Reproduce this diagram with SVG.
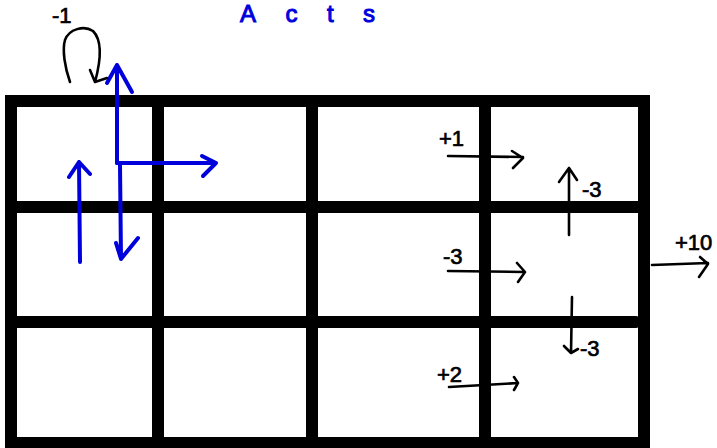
<svg xmlns="http://www.w3.org/2000/svg" width="717" height="448" viewBox="0 0 717 448">
<style>
.grid{stroke:#000;stroke-width:12;stroke-linecap:round;fill:none}
.blue{stroke:#0000dd;stroke-width:4;stroke-linecap:round;stroke-linejoin:round;fill:none}
.blk{stroke:#000;stroke-width:2.6;stroke-linecap:round;stroke-linejoin:round;fill:none}
.lbl{font-family:"Liberation Sans",Arial,sans-serif;font-size:22px;fill:#000;stroke:#000;stroke-width:0.7}
</style>
<rect width="717" height="448" fill="#fff"/>
<text x="240" y="22" font-family="Liberation Sans, Arial, sans-serif" font-size="24" fill="#0000dd" stroke="#0000dd" stroke-width="1" textLength="135" lengthAdjust="spacing">Acts</text>
<g id="grid">
<path class="grid" d="M11,448 L11,101 L644,101 L644,448"/>
<path class="grid" d="M11,443 L644,443"/>
<path class="grid" d="M11,207 L644,207"/>
<path class="grid" d="M11,322 L636,322"/>
<path class="grid" d="M158,101 L158,448"/>
<path class="grid" d="M312,101 L312,448"/>
<path class="grid" d="M485,101 L485,448"/>
</g>
<g id="actions">
<path class="blue" d="M117,163 L117,65 M107,83 L117,65 L132,92"/>
<path class="blue" d="M117,163 L216,163 M202,156 L216,163 L203,176"/>
<path class="blue" d="M120,165 L121,259 M116,243 L121,259 L138,238"/>
<path class="blue" d="M80,262 L79,162 M69,177 L79,162 L90,174"/>
</g>
<g id="connectors">
<path class="blk" d="M70,82 C65,68 62,50 65,40 C69,29 84,25 93,31 C102,40 101,60 95,82 M90,70 L95,82 L107,78"/>
<path class="blk" d="M448,156 L523,157 M512,151 L523,158 L513,168"/>
<path class="blk" d="M569,235 L569,168 M559,182 L569,168 L577,180"/>
<path class="blk" d="M448,271 L524,272 M517,263 L525,272 L518,282"/>
<path class="blk" d="M652,265 L708,263 M700,257 L708,264 L699,277"/>
<path class="blk" d="M572,297 L571,353 M564,346 L571,353 L578,349"/>
<path class="blk" d="M449,387 L518,383 M514,377 L518,383 L514,390"/>
</g>
<g id="labels">
<text class="lbl" x="52" y="23">-1</text>
<text class="lbl" x="439" y="146">+1</text>
<text class="lbl" x="582" y="197">-3</text>
<text class="lbl" x="443" y="264">-3</text>
<text class="lbl" x="675" y="250">+10</text>
<text class="lbl" x="580" y="356">-3</text>
<text class="lbl" x="437" y="382">+2</text>
</g>
</svg>
